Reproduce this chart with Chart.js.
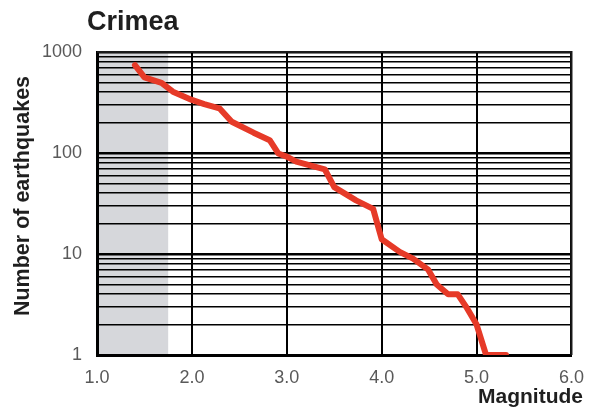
<!DOCTYPE html>
<html>
<head>
<meta charset="utf-8">
<title>Crimea</title>
<script src="https://cdn.jsdelivr.net/npm/chart.js@4.4.1/dist/chart.umd.min.js"></script>
<style>
  html, body { margin: 0; padding: 0; background: #ffffff; }
  #wrap { width: 596px; height: 411px; position: relative; }
</style>
</head>
<body>
<div id="wrap"><canvas id="c" width="596" height="411"></canvas></div>
<script>
// Cumulative number of earthquakes at or above each magnitude
const magnitudes = [1.40, 1.50, 1.68, 1.80, 2.00, 2.13, 2.29, 2.42, 2.65, 2.82, 2.91, 3.00, 3.10, 3.40, 3.50, 3.73, 3.91, 4.00, 4.19, 4.33, 4.49, 4.58, 4.70, 4.80, 4.89, 5.00, 5.10, 5.31];
const counts     = [740,  560,  495,  405,  335,  305,  277,  204,  159,  134,  99,   92,   82,   69,   46,   34,   28,   14,   10.5, 9,    7,    5,    4,    4,    3,    2,    1,    1];

// Axis ranges and labelled ticks
const magnitudeRange = [1.0, 6.0];
const countRange = [1, 1000];
const countTickLabels = [1, 10, 100, 1000];
// Magnitudes below the completeness threshold are shaded
const shadedRange = [1.0, 1.75];

const FONT = '"Liberation Sans", Arial, Helvetica, sans-serif';

const decorations = {
  id: 'decorations',
  beforeDraw(chart) {
    const { ctx, chartArea, scales } = chart;
    const x0 = scales.x.getPixelForValue(shadedRange[0]);
    const x1 = scales.x.getPixelForValue(shadedRange[1]);
    ctx.save();
    ctx.fillStyle = '#d6d7db';
    ctx.fillRect(x0, chartArea.top, x1 - x0, chartArea.bottom - chartArea.top);
    ctx.restore();
  },
  afterDraw(chart) {
    const { ctx, chartArea } = chart;
    ctx.save();
    // top and right frame
    ctx.strokeStyle = '#1a1a1a';
    ctx.lineWidth = 2;
    ctx.beginPath();
    ctx.moveTo(chartArea.left, chartArea.top);
    ctx.lineTo(chartArea.right, chartArea.top);
    ctx.lineTo(chartArea.right, chartArea.bottom);
    ctx.stroke();

    // chart title
    ctx.fillStyle = '#1f1f1f';
    ctx.font = 'bold 27px ' + FONT;
    ctx.textAlign = 'left';
    ctx.textBaseline = 'alphabetic';
    ctx.fillText('Crimea', 87, 30);

    // x-axis title
    ctx.font = 'bold 21px ' + FONT;
    ctx.textAlign = 'right';
    ctx.textBaseline = 'middle';
    ctx.fillText('Magnitude', 583, 397);

    // y-axis title
    ctx.translate(23, 196);
    ctx.rotate(-Math.PI / 2);
    ctx.textAlign = 'center';
    ctx.font = 'bold 21.5px ' + FONT;
    ctx.fillText('Number of earthquakes', 0, 0);
    ctx.restore();
  }
};

const points = magnitudes.map((m, i) => ({ x: m, y: counts[i] }));

new Chart(document.getElementById('c'), {
  type: 'line',
  data: {
    datasets: [{
      data: points,
      borderColor: '#e63a28',
      borderWidth: 6,
      borderJoinStyle: 'round',
      borderCapStyle: 'round',
      pointRadius: 0,
      tension: 0,
      fill: false
    }]
  },
  options: {
    responsive: false,
    animation: false,
    devicePixelRatio: 1,
    layout: { padding: { left: 0, top: 52, right: 24, bottom: 0 } },
    plugins: {
      legend: { display: false },
      tooltip: { enabled: false },
      title: { display: false }
    },
    scales: {
      x: {
        type: 'linear',
        min: magnitudeRange[0],
        max: magnitudeRange[1],
        afterFit(scale) { scale.height = 56; },
        ticks: {
          stepSize: 1,
          padding: 12,
          color: '#595959',
          font: { family: FONT, size: 18 },
          callback: v => Number(v).toFixed(1)
        },
        grid: { color: '#000000', lineWidth: 2, drawTicks: false },
        border: { color: '#000000', width: 3 }
      },
      y: {
        type: 'logarithmic',
        min: countRange[0],
        max: countRange[1],
        afterFit(scale) { scale.width = 97; },
        afterBuildTicks(scale) {
          const ticks = [];
          for (let p = countRange[0]; p < countRange[1]; p *= 10) {
            for (let k = 1; k <= 9; k++) ticks.push({ value: k * p });
          }
          ticks.push({ value: countRange[1] });
          scale.ticks = ticks;
        },
        ticks: {
          autoSkip: false,
          padding: 15,
          color: '#595959',
          font: { family: FONT, size: 18 },
          callback: v => (countTickLabels.includes(v) ? String(v) : '')
        },
        grid: {
          color: '#000000',
          drawTicks: false,
          lineWidth: ctx => (countTickLabels.includes(ctx.tick && ctx.tick.value) ? 2.5 : 1.5)
        },
        border: { color: '#000000', width: 3 }
      }
    }
  },
  plugins: [decorations]
});
</script>
</body>
</html>
